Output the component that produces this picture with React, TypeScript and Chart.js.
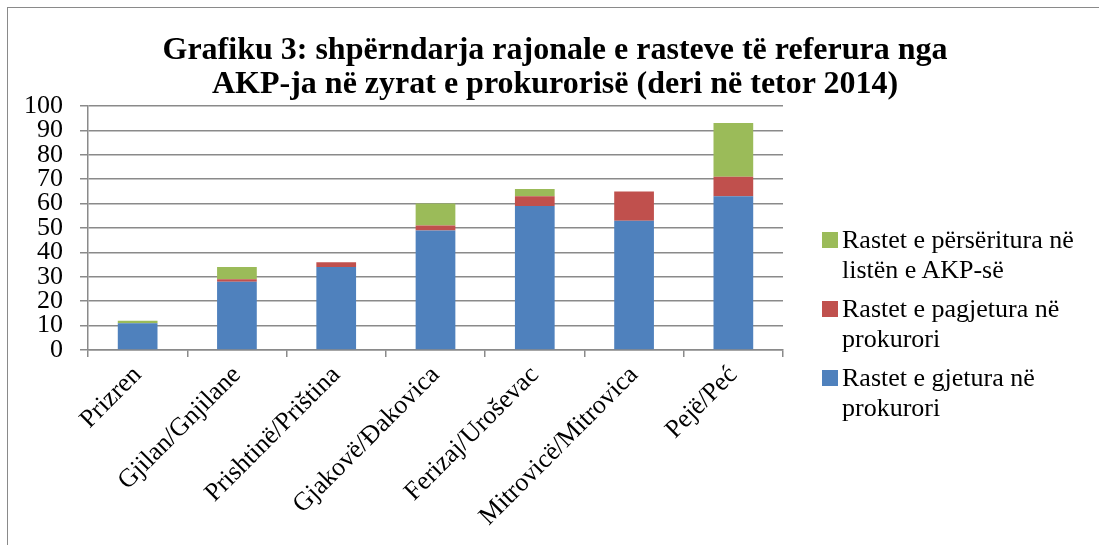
import React, { useEffect, useRef } from "react";
import { Chart, registerables } from "chart.js";

Chart.register(...registerables);

const categories = [
  "Prizren",
  "Gjilan/Gnjilane",
  "Prishtinë/Priština",
  "Gjakovë/Đakovica",
  "Ferizaj/Uroševac",
  "Mitrovicë/Mitrovica",
  "Pejë/Peć",
];
const foundValues = [11, 28, 34, 49, 59, 53, 63];
const notFoundValues = [0, 1, 2, 2, 4, 12, 8];
const repeatedValues = [1, 5, 0, 9, 3, 0, 22];
const titleLines = [
  "Grafiku 3: shpërndarja rajonale e rasteve të referura nga",
  "AKP-ja në zyrat e prokurorisë (deri në tetor 2014)",
];
const legendItems = [
  { label: ["Rastet e përsëritura në", "listën e AKP-së"], color: "#9BBB59" },
  { label: ["Rastet e pagjetura në", "prokurori"], color: "#C0504D" },
  { label: ["Rastet e gjetura në", "prokurori"], color: "#4F81BD" },
];

const FONT = "'Liberation Serif', 'Times New Roman', serif";
const GRID = "#8a8a8a";

export default function App() {
  const ref = useRef<HTMLCanvasElement>(null);
  useEffect(() => {
    if (!ref.current) return;
    const chart = new Chart(ref.current, {
      type: "bar",
      data: {
        labels: categories,
        datasets: [
          { label: "Rastet e gjetura në prokurori", data: foundValues, backgroundColor: "#4F81BD", barPercentage: 0.4, categoryPercentage: 1 },
          { label: "Rastet e pagjetura në prokurori", data: notFoundValues, backgroundColor: "#C0504D", barPercentage: 0.4, categoryPercentage: 1 },
          { label: "Rastet e përsëritura në listën e AKP-së", data: repeatedValues, backgroundColor: "#9BBB59", barPercentage: 0.4, categoryPercentage: 1 },
        ],
      },
      options: {
        animation: false,
        responsive: false,
        maintainAspectRatio: false,
        layout: { padding: { left: 8, top: 106, right: 316, bottom: 0 } },
        plugins: {
          legend: { display: false },
          tooltip: { enabled: false },
          title: { display: false },
        },
        scales: {
          x: {
            stacked: true,
            grid: { drawOnChartArea: false, drawTicks: true, tickLength: 7, color: GRID, lineWidth: 1.5, offset: true },
            border: { display: true, color: GRID, width: 1.5 },
            ticks: {
              color: "#000",
              font: { family: FONT, size: 26 },
              minRotation: 45,
              maxRotation: 45,
              autoSkip: false,
              padding: 3,
            },
            afterFit: (s: any) => { s.height = 195; },
          },
          y: {
            stacked: true,
            min: 0,
            max: 100,
            grid: { color: GRID, lineWidth: 1.5, tickLength: 8 },
            border: { display: true, color: GRID, width: 1.5 },
            ticks: {
              stepSize: 10,
              autoSkip: false,
              color: "#000",
              font: { family: FONT, size: 26 },
              padding: 17,
            },
            afterFit: (s: any) => { s.width = 80; },
          },
        },
      },
    });
    return () => chart.destroy();
  }, []);

  return (
    <div style={{ position: "absolute", left: 0, top: 0, width: 1099, height: 545, background: "#fff", overflow: "hidden" }}>
      <div style={{ position: "absolute", left: 7, top: 7, right: 0, bottom: 0, borderLeft: `1.5px solid ${GRID}`, borderTop: `1.5px solid ${GRID}` }} />
      <canvas ref={ref} width={1099} height={545} style={{ position: "absolute", left: 0, top: 0 }} />
      <div style={{ position: "absolute", left: 155, width: 800, top: 31, textAlign: "center", fontFamily: FONT, fontSize: 32, fontWeight: "bold", lineHeight: "34px", color: "#000" }}>
        {titleLines.map((l, i) => (
          <div key={i} style={{ whiteSpace: "nowrap" }}>{l}</div>
        ))}
      </div>
      <div style={{ position: "absolute", left: 822, top: 225, fontFamily: FONT, fontSize: 26, lineHeight: "30px", color: "#000" }}>
        {legendItems.map((it, i) => (
          <div key={i} style={{ position: "relative", paddingLeft: 20, marginBottom: 9 }}>
            <span style={{ position: "absolute", left: 0, top: 7, width: 16, height: 16, background: it.color }} />
            {it.label.map((l, j) => (
              <div key={j} style={{ whiteSpace: "nowrap" }}>{l}</div>
            ))}
          </div>
        ))}
      </div>
    </div>
  );
}
